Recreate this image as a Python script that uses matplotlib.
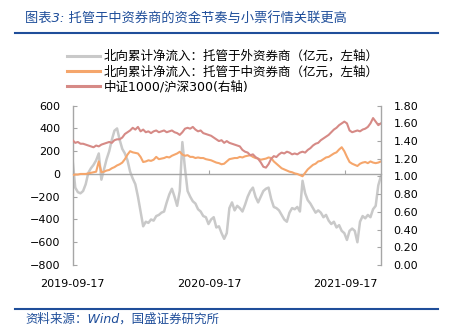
#!/usr/bin/env python3
"""Northbound cumulative inflow by custodian type vs. CSI1000/CSI300 ratio."""

import matplotlib
matplotlib.use("Agg")
import matplotlib.pyplot as plt
from matplotlib.lines import Line2D
import pandas as pd

plt.rcParams["font.family"] = ["DejaVu Sans", "Noto Sans CJK SC"]

BLUE = "#1F4E9A"
AXIS_GREY = "#A6A6A6"
C_FOREIGN = "#C9C9C9"
C_DOMESTIC = "#F5A66C"
C_RATIO = "#D68A86"

# weekly observations
DATES = pd.date_range("2019-09-17", periods=119, freq="7D")
TICK_DATES = ["2019-09-17", "2020-09-17", "2021-09-17"]

# 北向累计净流入：托管于外资券商（亿元）
FOREIGN = [
    120, -120, -160, -170, -150, -90, 10, 50, 80, 120,
    180, -50, 40, 130, 200, 300, 380, 400, 300, 220,
    180, 120, 20, -40, -90, -200, -330, -460, -420, -430,
    -400, -410, -370, -360, -340, -330, -250, -180, -130, -200,
    -280, -150, 280, 50, -150, -200, -240, -260, -310, -330,
    -370, -380, -440, -400, -380, -470, -460, -520, -570, -520,
    -300, -250, -320, -280, -300, -330, -270, -200, -150, -120,
    -200, -250, -200, -150, -130, -120, -220, -290, -300, -320,
    -360, -400, -420, -340, -300, -310, -290, -330, -60, -170,
    -230, -260, -300, -340, -320, -340, -380, -360, -410, -440,
    -420, -470, -450, -500, -520, -580, -500, -480, -500, -600,
    -420, -370, -390, -360, -380, -310, -280, -100, -20,
]

# 北向累计净流入：托管于中资券商（亿元）
DOMESTIC = [
    -10, -5, -5, 0, 0, 0, 5, 10, 15, 20,
    110, 15, 20, 30, 35, 50, 60, 75, 85, 100,
    130, 170, 200, 190, 185, 180, 150, 105, 110, 120,
    115, 125, 150, 130, 135, 140, 150, 145, 160, 170,
    180, 195, 170, 160, 165, 150, 150, 140, 145, 140,
    140, 130, 125, 120, 110, 100, 95, 85, 90, 110,
    130, 135, 140, 140, 150, 145, 155, 160, 165, 150,
    140, 135, 125, 130, 135, 145, 140, 110, 90, 70,
    50, 40, 30, 20, 15, 5, 0, -10, -20, 10,
    40, 60, 80, 90, 110, 115, 130, 145, 150, 165,
    180, 190, 215, 235, 200, 150, 105, 90, 80, 70,
    90, 100, 105, 95, 110, 100, 95, 100, 110,
]

# 中证1000/沪深300
RATIO = [
    1.41, 1.38, 1.39, 1.37, 1.37, 1.36, 1.35, 1.34, 1.33, 1.35,
    1.34, 1.36, 1.37, 1.38, 1.39, 1.38, 1.41, 1.42, 1.42, 1.44,
    1.48, 1.50, 1.52, 1.55, 1.53, 1.56, 1.51, 1.53, 1.50, 1.51,
    1.49, 1.51, 1.52, 1.50, 1.51, 1.52, 1.50, 1.51, 1.52, 1.50,
    1.49, 1.47, 1.50, 1.54, 1.55, 1.54, 1.56, 1.53, 1.51, 1.52,
    1.49, 1.48, 1.47, 1.46, 1.44, 1.42, 1.40, 1.41, 1.38, 1.40,
    1.38, 1.37, 1.36, 1.35, 1.34, 1.30, 1.28, 1.27, 1.24, 1.25,
    1.22, 1.20, 1.16, 1.11, 1.10, 1.14, 1.20, 1.23, 1.22, 1.25,
    1.27, 1.26, 1.28, 1.27, 1.25, 1.26, 1.25, 1.27, 1.28, 1.27,
    1.30, 1.32, 1.35, 1.37, 1.38, 1.41, 1.43, 1.45, 1.47, 1.50,
    1.53, 1.55, 1.58, 1.60, 1.62, 1.60, 1.52, 1.50, 1.51, 1.52,
    1.51, 1.53, 1.54, 1.56, 1.60, 1.66, 1.62, 1.58, 1.60,
]

LABELS = [
    "北向累计净流入：托管于外资券商（亿元，左轴）",
    "北向累计净流入：托管于中资券商（亿元，左轴）",
    "中证1000/沪深300(右轴)",
]


def main() -> None:
    fig = plt.figure(figsize=(4.54, 3.34), dpi=100, facecolor="white")
    ax = fig.add_axes([0.160, 0.2066, 0.679, 0.477])
    ax2 = ax.twinx()

    l1, = ax.plot(DATES, FOREIGN, color=C_FOREIGN, lw=1.8, zorder=2)
    l2, = ax.plot(DATES, DOMESTIC, color=C_DOMESTIC, lw=1.5, zorder=3)
    l3, = ax2.plot(DATES, RATIO, color=C_RATIO, lw=1.5)

    ax.set_xlim(DATES[0], DATES[-1])
    ax.set_ylim(-800, 600)
    ax.set_yticks(range(-800, 601, 200))
    ax2.set_ylim(0, 1.8)
    ax2.set_yticks([i * 0.2 for i in range(10)])
    ax2.set_yticklabels([f"{i * 0.2:.2f}" for i in range(10)])

    ticks = pd.to_datetime(TICK_DATES)
    ax.set_xticks(ticks)
    ax.spines["bottom"].set_position(("data", 0))
    ax.tick_params(axis="x", direction="in", length=3, color=AXIS_GREY,
                   labelbottom=False)
    for t, lab in zip(ticks, TICK_DATES):
        ax.text(t, -0.12, lab, transform=ax.get_xaxis_transform(),
                ha="center", va="center", fontsize=8, family="DejaVu Sans")

    ax.tick_params(axis="y", direction="in", length=3, color=AXIS_GREY,
                   labelsize=8, pad=9)
    ax2.tick_params(axis="y", direction="in", length=3, color=AXIS_GREY,
                    labelsize=8, pad=9)

    for a in (ax, ax2):
        for spine in a.spines.values():
            spine.set_color(AXIS_GREY)
            spine.set_linewidth(1.0)
        a.spines["top"].set_visible(False)
    ax.spines["right"].set_visible(False)
    ax2.spines["left"].set_visible(False)
    ax2.spines["bottom"].set_visible(False)

    fig.legend([l1, l2, l3], LABELS, loc="upper left",
               bbox_to_anchor=(0.148, 0.850), frameon=False, fontsize=9,
               handlelength=2.6, handletextpad=0.3, labelspacing=0.18,
               borderaxespad=0, borderpad=0)
    for line in fig.legends[0].get_lines():
        line.set_linewidth(2.2)

    fig.text(25 / 454, 1 - 18 / 334, "图表3: 托管于中资券商的资金节奏与小票行情关联更高",
             fontsize=9.5, color=BLUE, style="italic", va="center")
    fig.add_artist(Line2D([15 / 454, 438 / 454], [1 - 32.5 / 334] * 2,
                          transform=fig.transFigure, color=BLUE, lw=1.5))
    fig.add_artist(Line2D([15 / 454, 438 / 454], [1 - 309 / 334] * 2,
                          transform=fig.transFigure, color=BLUE, lw=1.5))
    fig.text(25 / 454, 1 - 319.5 / 334, "资料来源：Wind，国盛证券研究所",
             fontsize=9, color=BLUE, style="italic", va="center")

    fig.savefig("out.png", dpi=100, facecolor="white")
    plt.close(fig)


if __name__ == "__main__":
    main()
